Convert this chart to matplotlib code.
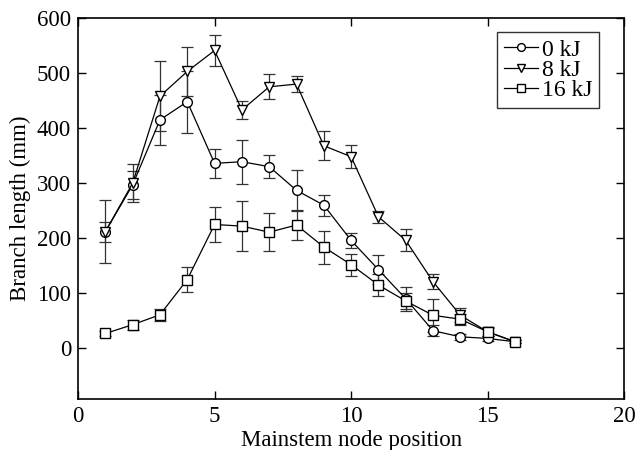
import numpy as np
import matplotlib
matplotlib.use('Agg')
import matplotlib.pyplot as plt

plt.rcParams['font.family'] = ['Liberation Serif', 'DejaVu Serif']
plt.rcParams['mathtext.fontset'] = 'stix'

node = [1, 2, 3, 4, 5, 6, 7, 8, 9, 10, 11, 12, 13, 14, 15, 16]

len_0kj = [212, 297, 415, 448, 336, 339, 330, 287, 260, 196, 143, 90, 32, 21, 18, 12]
err_0kj = [18, 25, 46, 56, 26, 40, 21, 37, 19, 14, 27, 22, 10, 5, 4, 3]

len_8kj = [212, 300, 458, 503, 541, 433, 475, 480, 368, 348, 239, 196, 121, 60, 30, 12]
err_8kj = [57, 35, 64, 45, 29, 16, 23, 14, 26, 21, 11, 20, 14, 13, 8, 3]

len_16kj = [27, 43, 61, 125, 225, 222, 211, 224, 184, 152, 115, 86, 60, 53, 30, 12]
err_16kj = [5, 9, 11, 22, 32, 45, 35, 28, 30, 20, 20, 15, 30, 10, 7, 3]

fig = plt.figure(figsize=(6.37, 4.5), dpi=100)
ax = fig.add_axes([0.1225, 0.1133, 0.8575, 0.8467])

style = dict(color='black', mfc='white', mec='black', ms=7, lw=0.9,
             elinewidth=0.9, ecolor='#333333', capsize=4, capthick=0.9)
e0 = ax.errorbar(node, len_0kj, yerr=err_0kj, marker='o', label='0 kJ', **style)
e8 = ax.errorbar(node, len_8kj, yerr=err_8kj, marker='v', label='8 kJ', **style)
e16 = ax.errorbar(node, len_16kj, yerr=err_16kj, marker='s', label='16 kJ', **style)

ax.set_xlim(0, 20)
ax.set_ylim(-92, 600)
ax.set_xticks([0, 5, 10, 15, 20])
ax.set_yticks([0, 100, 200, 300, 400, 500, 600])
ax.tick_params(direction='in', top=True, right=True, length=6, width=1,
               labelsize=16.5)
ax.tick_params(axis='x', pad=5)
ax.tick_params(axis='y', pad=5)
for s in ax.spines.values():
    s.set_linewidth(1.2)

ax.set_xlabel('Mainstem node position', fontsize=16.5, labelpad=2)
ax.set_ylabel('Branch length (mm)', fontsize=16.5, labelpad=4)

# legend without the error bar glyphs
leg = ax.legend([e0[0], e8[0], e16[0]], ['0 kJ', '8 kJ', '16 kJ'],
                loc='upper right', fontsize=17, frameon=True,
                fancybox=False, edgecolor='black', handlelength=1.45,
                handletextpad=0.15, labelspacing=-0.05, borderpad=0.3,
                borderaxespad=0, markerscale=0.8,
                bbox_to_anchor=(0.954, 0.963))
leg.get_frame().set_linewidth(1.0)

fig.savefig('out.png', dpi=100)
